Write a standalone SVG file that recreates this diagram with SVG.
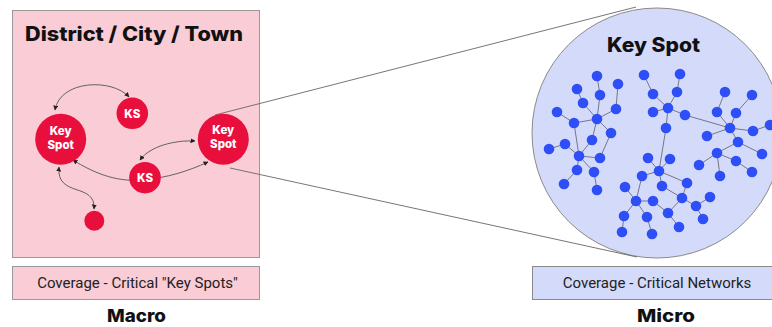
<svg xmlns="http://www.w3.org/2000/svg" width="772" height="327" viewBox="0 0 772 327">
<style>
.panel{fill:#f9ccd6;stroke:#9a9a9a;stroke-width:1}
.bluebg{fill:#d4dbfa;stroke:#8a8a8a;stroke-width:1}
.title{font-family:Inter,"Liberation Sans",Arial,sans-serif;font-weight:800;fill:#111}
.cap{font-family:Roboto,"Liberation Sans",sans-serif;font-size:15px;fill:#222}
.ks{fill:#e90f3d}
.kst{font-family:Inter,"Liberation Sans",Arial,sans-serif;font-weight:800;font-size:11.5px;fill:#fff;text-anchor:middle}
.arr{fill:none;stroke:#555;stroke-width:0.9;marker-end:url(#ah);marker-start:url(#ah)}
.one{fill:none;stroke:#555;stroke-width:0.9;marker-end:url(#ah)}
.zoom{stroke:#666;stroke-width:0.9;fill:none}
.e{stroke:#6a6a7a;stroke-width:0.9}
.n{fill:#2e4ef8}
</style>
<defs>
<marker id="ah" viewBox="0 0 10 10" refX="9" refY="5" markerWidth="5" markerHeight="5" orient="auto-start-reverse" markerUnits="userSpaceOnUse"><path d="M0,0 L10,5 L0,10 z" fill="#222"/></marker>
</defs>

<g id="macro-panel">
<rect class="panel" x="12.5" y="10.5" width="247" height="247"/>
<text class="title" x="25" y="41" font-size="20" textLength="218" lengthAdjust="spacingAndGlyphs">District / City / Town</text>
</g>

<g id="micro-panel">
<circle class="bluebg" cx="657" cy="133" r="125"/>
<text class="title" x="607" y="52" font-size="20" textLength="93" lengthAdjust="spacingAndGlyphs">Key Spot</text>
</g>

<g id="zoom-lines">
<line class="zoom" x1="215" y1="115" x2="636" y2="7"/>
<line class="zoom" x1="230" y1="168" x2="637" y2="257"/>
</g>

<g id="connectors">
<path class="arr" d="M55,110 C60,80 112,78 129,97"/>
<path class="arr" d="M59,167 C56,198 96,182 94,209"/>
<path class="one" d="M140,180 C115,182 92,172 73,160"/>
<path class="one" d="M140,180 C168,178 188,171 208,162"/>
<path class="arr" d="M140,160 C150,146 175,140 195,141"/>
</g>

<g id="ks-left"><circle class="ks" cx="60.7" cy="139.3" r="25.5"/><text class="kst" x="60.7" y="135">Key</text><text class="kst" x="60.7" y="149">Spot</text></g>
<g id="ks-top"><circle class="ks" cx="132.3" cy="113.3" r="15.8"/><text class="kst" x="132.3" y="117.5">KS</text></g>
<g id="ks-right"><circle class="ks" cx="223.3" cy="139.3" r="25.5"/><text class="kst" x="223.3" y="134">Key</text><text class="kst" x="223.3" y="148">Spot</text></g>
<g id="ks-bottom"><circle class="ks" cx="145" cy="177.7" r="15.8"/><text class="kst" x="145" y="182">KS</text></g>
<g id="ks-small"><circle class="ks" cx="94.3" cy="220.7" r="10"/></g>

<g id="network-edges">
<line class="e" x1="597" y1="76" x2="600" y2="95"/>
<line class="e" x1="600" y1="95" x2="597" y2="119"/>
<line class="e" x1="577" y1="89" x2="583" y2="103"/>
<line class="e" x1="583" y1="103" x2="597" y2="119"/>
<line class="e" x1="618" y1="84" x2="616" y2="109"/>
<line class="e" x1="616" y1="109" x2="597" y2="119"/>
<line class="e" x1="557" y1="112" x2="574" y2="123"/>
<line class="e" x1="574" y1="123" x2="597" y2="119"/>
<line class="e" x1="597" y1="119" x2="611" y2="133"/>
<line class="e" x1="597" y1="119" x2="592" y2="140"/>
<line class="e" x1="611" y1="133" x2="600" y2="158"/>
<line class="e" x1="574" y1="123" x2="579" y2="156"/>
<line class="e" x1="592" y1="140" x2="579" y2="156"/>
<line class="e" x1="565" y1="144" x2="579" y2="156"/>
<line class="e" x1="549" y1="149" x2="565" y2="144"/>
<line class="e" x1="579" y1="156" x2="600" y2="158"/>
<line class="e" x1="579" y1="156" x2="577" y2="170"/>
<line class="e" x1="579" y1="156" x2="594" y2="172"/>
<line class="e" x1="577" y1="170" x2="564" y2="184"/>
<line class="e" x1="594" y1="172" x2="597" y2="190"/>

<line class="e" x1="644" y1="75" x2="653" y2="94"/>
<line class="e" x1="653" y1="94" x2="668" y2="108"/>
<line class="e" x1="680" y1="74" x2="677" y2="92"/>
<line class="e" x1="677" y1="92" x2="668" y2="108"/>
<line class="e" x1="653" y1="112" x2="668" y2="108"/>
<line class="e" x1="668" y1="108" x2="685" y2="115"/>
<line class="e" x1="685" y1="115" x2="730" y2="128"/>
<line class="e" x1="668" y1="108" x2="666" y2="128"/>
<line class="e" x1="666" y1="128" x2="659" y2="171"/>
<line class="e" x1="725" y1="92" x2="717" y2="112"/>
<line class="e" x1="717" y1="112" x2="730" y2="128"/>
<line class="e" x1="752" y1="95" x2="736" y2="113"/>
<line class="e" x1="736" y1="113" x2="730" y2="128"/>
<line class="e" x1="730" y1="128" x2="753" y2="131"/>
<line class="e" x1="753" y1="131" x2="770" y2="125"/>
<line class="e" x1="730" y1="128" x2="707" y2="136"/>
<line class="e" x1="730" y1="128" x2="738" y2="142"/>
<line class="e" x1="738" y1="142" x2="717" y2="153"/>
<line class="e" x1="738" y1="142" x2="762" y2="154"/>
<line class="e" x1="717" y1="153" x2="736" y2="161"/>
<line class="e" x1="736" y1="161" x2="752" y2="172"/>
<line class="e" x1="717" y1="153" x2="699" y2="165"/>
<line class="e" x1="717" y1="153" x2="720" y2="176"/>

<line class="e" x1="648" y1="158" x2="659" y2="171"/>
<line class="e" x1="670" y1="159" x2="659" y2="171"/>
<line class="e" x1="659" y1="171" x2="642" y2="176"/>
<line class="e" x1="659" y1="171" x2="687" y2="183"/>
<line class="e" x1="659" y1="171" x2="662" y2="186"/>
<line class="e" x1="642" y1="176" x2="636" y2="201"/>
<line class="e" x1="625" y1="187" x2="636" y2="201"/>
<line class="e" x1="636" y1="201" x2="653" y2="201"/>
<line class="e" x1="636" y1="201" x2="624" y2="216"/>
<line class="e" x1="636" y1="201" x2="647" y2="217"/>
<line class="e" x1="624" y1="216" x2="622" y2="232"/>
<line class="e" x1="647" y1="217" x2="652" y2="234"/>
<line class="e" x1="653" y1="201" x2="668" y2="213"/>
<line class="e" x1="662" y1="186" x2="682" y2="198"/>
<line class="e" x1="687" y1="183" x2="682" y2="198"/>
<line class="e" x1="682" y1="198" x2="668" y2="213"/>
<line class="e" x1="668" y1="213" x2="679" y2="227"/>
<line class="e" x1="682" y1="198" x2="696" y2="206"/>
<line class="e" x1="696" y1="206" x2="710" y2="197"/>
<line class="e" x1="696" y1="206" x2="703" y2="219"/>
</g>

<g id="net-a1"><circle class="n" cx="597" cy="76" r="5.3"/></g>
<g id="net-a2"><circle class="n" cx="577" cy="89" r="5.3"/></g>
<g id="net-a3"><circle class="n" cx="618" cy="84" r="5.3"/></g>
<g id="net-a4"><circle class="n" cx="600" cy="95" r="5.3"/></g>
<g id="net-a5"><circle class="n" cx="583" cy="103" r="5.3"/></g>
<g id="net-a6"><circle class="n" cx="616" cy="109" r="5.3"/></g>
<g id="net-a7"><circle class="n" cx="557" cy="112" r="5.3"/></g>
<g id="net-a8"><circle class="n" cx="597" cy="119" r="5.3"/></g>
<g id="net-a9"><circle class="n" cx="574" cy="123" r="5.3"/></g>
<g id="net-a10"><circle class="n" cx="611" cy="133" r="5.3"/></g>
<g id="net-a11"><circle class="n" cx="592" cy="140" r="5.3"/></g>
<g id="net-a12"><circle class="n" cx="565" cy="144" r="5.3"/></g>
<g id="net-a13"><circle class="n" cx="549" cy="149" r="5.3"/></g>
<g id="net-a14"><circle class="n" cx="579" cy="156" r="5.3"/></g>
<g id="net-a15"><circle class="n" cx="600" cy="158" r="5.3"/></g>
<g id="net-a16"><circle class="n" cx="577" cy="170" r="5.3"/></g>
<g id="net-a17"><circle class="n" cx="594" cy="172" r="5.3"/></g>
<g id="net-a18"><circle class="n" cx="564" cy="184" r="5.3"/></g>
<g id="net-a19"><circle class="n" cx="597" cy="190" r="5.3"/></g>

<g id="net-b1"><circle class="n" cx="644" cy="75" r="5.3"/></g>
<g id="net-b2"><circle class="n" cx="680" cy="74" r="5.3"/></g>
<g id="net-b3"><circle class="n" cx="653" cy="94" r="5.3"/></g>
<g id="net-b4"><circle class="n" cx="677" cy="92" r="5.3"/></g>
<g id="net-b5"><circle class="n" cx="653" cy="112" r="5.3"/></g>
<g id="net-b6"><circle class="n" cx="668" cy="108" r="5.3"/></g>
<g id="net-b7"><circle class="n" cx="685" cy="115" r="5.3"/></g>
<g id="net-b8"><circle class="n" cx="666" cy="128" r="5.3"/></g>
<g id="net-b9"><circle class="n" cx="730" cy="128" r="5.3"/></g>

<g id="net-c1"><circle class="n" cx="725" cy="92" r="5.3"/></g>
<g id="net-c2"><circle class="n" cx="752" cy="95" r="5.3"/></g>
<g id="net-c3"><circle class="n" cx="717" cy="112" r="5.3"/></g>
<g id="net-c4"><circle class="n" cx="736" cy="113" r="5.3"/></g>
<g id="net-c5"><circle class="n" cx="753" cy="131" r="5.3"/></g>
<g id="net-c6"><circle class="n" cx="770" cy="125" r="5.3"/></g>
<g id="net-c7"><circle class="n" cx="707" cy="136" r="5.3"/></g>
<g id="net-c8"><circle class="n" cx="738" cy="142" r="5.3"/></g>
<g id="net-c9"><circle class="n" cx="717" cy="153" r="5.3"/></g>
<g id="net-c10"><circle class="n" cx="762" cy="154" r="5.3"/></g>
<g id="net-c11"><circle class="n" cx="736" cy="161" r="5.3"/></g>
<g id="net-c12"><circle class="n" cx="699" cy="165" r="5.3"/></g>
<g id="net-c13"><circle class="n" cx="720" cy="176" r="5.3"/></g>
<g id="net-c14"><circle class="n" cx="752" cy="172" r="5.3"/></g>

<g id="net-d1"><circle class="n" cx="648" cy="158" r="5.3"/></g>
<g id="net-d2"><circle class="n" cx="670" cy="159" r="5.3"/></g>
<g id="net-d3"><circle class="n" cx="659" cy="171" r="5.3"/></g>
<g id="net-d4"><circle class="n" cx="642" cy="176" r="5.3"/></g>
<g id="net-d5"><circle class="n" cx="687" cy="183" r="5.3"/></g>
<g id="net-d6"><circle class="n" cx="662" cy="186" r="5.3"/></g>
<g id="net-d7"><circle class="n" cx="625" cy="187" r="5.3"/></g>
<g id="net-d8"><circle class="n" cx="636" cy="201" r="5.3"/></g>
<g id="net-d9"><circle class="n" cx="653" cy="201" r="5.3"/></g>
<g id="net-d10"><circle class="n" cx="682" cy="198" r="5.3"/></g>
<g id="net-d11"><circle class="n" cx="696" cy="206" r="5.3"/></g>
<g id="net-d12"><circle class="n" cx="710" cy="197" r="5.3"/></g>
<g id="net-d13"><circle class="n" cx="624" cy="216" r="5.3"/></g>
<g id="net-d14"><circle class="n" cx="647" cy="217" r="5.3"/></g>
<g id="net-d15"><circle class="n" cx="668" cy="213" r="5.3"/></g>
<g id="net-d16"><circle class="n" cx="703" cy="219" r="5.3"/></g>
<g id="net-d17"><circle class="n" cx="679" cy="227" r="5.3"/></g>
<g id="net-d18"><circle class="n" cx="622" cy="232" r="5.3"/></g>
<g id="net-d19"><circle class="n" cx="652" cy="234" r="5.3"/></g>

<g id="caption-macro">
<rect class="panel" x="12.5" y="266.5" width="247" height="33"/>
<text class="cap" x="137.5" y="288" text-anchor="middle">Coverage - Critical "Key Spots"</text>
</g>
<g id="caption-micro">
<rect class="bluebg" x="532.5" y="266.5" width="245" height="33"/>
<text class="cap" x="657" y="288" text-anchor="middle">Coverage - Critical Networks</text>
</g>
<g id="label-macro"><text class="title" x="107" y="322" font-size="18" textLength="59" lengthAdjust="spacingAndGlyphs">Macro</text></g>
<g id="label-micro"><text class="title" x="637" y="322" font-size="18" textLength="58" lengthAdjust="spacingAndGlyphs">Micro</text></g>
</svg>
